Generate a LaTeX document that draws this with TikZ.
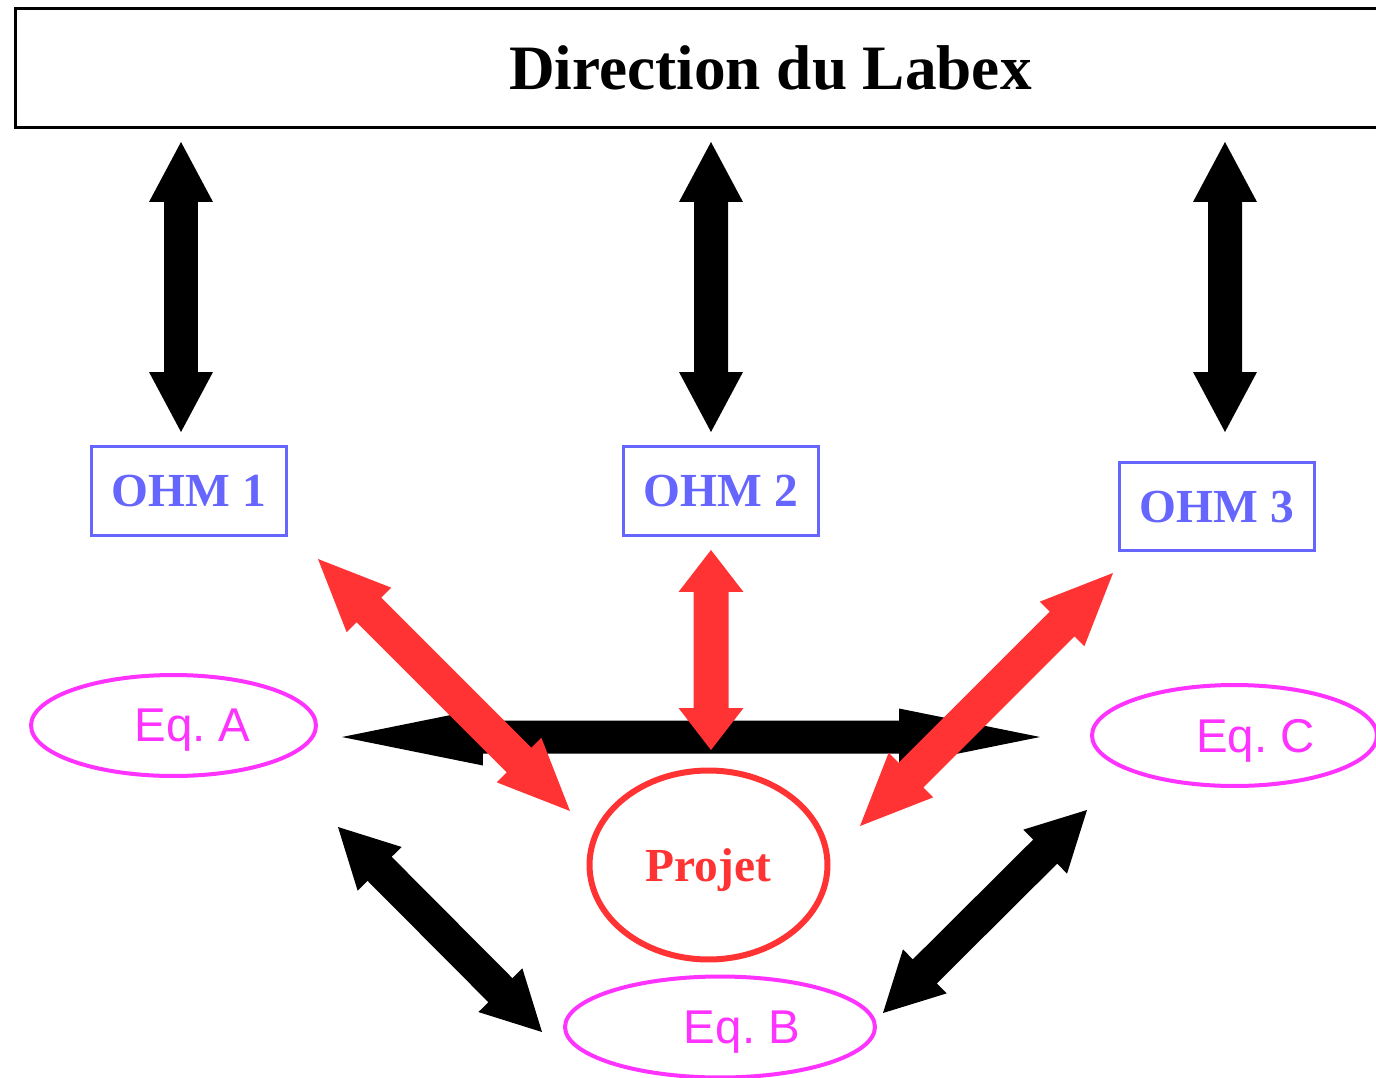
\documentclass[tikz,border=0pt]{standalone}
\usepackage{fontspec}
\setmainfont{Liberation Serif}
\newfontfamily\arialfont{Liberation Sans}
\usetikzlibrary{shapes.geometric,calc}
\definecolor{ohmblue}{RGB}{102,102,255}
\definecolor{projred}{RGB}{255,51,51}
\definecolor{eqmag}{RGB}{255,51,255}
% #1 start, #2 end, #3 half shaft, #4 head length, #5 half head width, #6 colour
\newcommand\dblarrow[6]{%
  \coordinate (hA) at ($(#1)!#4!(#2)$);
  \coordinate (hB) at ($(#2)!#4!(#1)$);
  \fill[#6] (#1) -- ($(hA)!#5!90:(#2)$) -- ($(hA)!#3!90:(#2)$)
    -- ($(hB)!#3!-90:(#1)$) -- ($(hB)!#5!-90:(#1)$) -- (#2)
    -- ($(hB)!#5!90:(#1)$) -- ($(hB)!#3!90:(#1)$)
    -- ($(hA)!#3!-90:(#2)$) -- ($(hA)!#5!-90:(#2)$) -- cycle;}
\tikzset{
  ohmbox/.style={draw=ohmblue, line width=0.06cm, text=ohmblue, minimum width=3.92cm, minimum height=1.78cm, inner sep=0pt, text depth=0pt, font=\fontsize{27}{30}\selectfont\bfseries},
  eqell/.style={ellipse, draw=eqmag, line width=0.08cm, text=eqmag, minimum width=5.7cm, minimum height=2.02cm, inner sep=0pt, text depth=0pt, font=\arialfont\fontsize{27}{30}\selectfont\frenchspacing},
}
\begin{document}
\begin{tikzpicture}[x=0.02cm, y=-0.02cm]
\useasboundingbox (0,0) rectangle (1376,1078);
\clip (0,0) rectangle (1376,1078);
\fill[white] (0,0) rectangle (1376,1078);
% nodes
\node[draw, line width=0.06cm, minimum width=30.22cm, minimum height=2.38cm, inner sep=0pt,
      font=\fontsize{36}{40}\selectfont\bfseries] (top) at (770.5,68) {Direction du Labex};
\node[ohmbox] (ohm1) at (189,491) {OHM 1};
\node[ohmbox] (ohm2) at (721,491) {OHM 2};
\node[ohmbox] (ohm3) at (1217,506.5) {OHM 3};
\node[eqell] (eqA) at (173.5,725.5) {\hspace*{0.76cm}Eq. A};
\node[eqell] (eqC) at (1234.5,735.5) {\hspace*{0.84cm}Eq. C};
\node[eqell, minimum width=6.2cm] (eqB) at (720,1027) {\hspace*{0.88cm}Eq. B};
\node[ellipse, draw=projred, line width=0.12cm, text=projred, minimum width=4.76cm, minimum height=3.78cm,
      inner sep=0pt, text depth=0pt, font=\fontsize{27}{30}\selectfont\bfseries] (projet) at (708.5,865) {Projet};
% connector end points
\coordinate (v1a) at (181,142);  \coordinate (v1b) at (181,432);
\coordinate (v2a) at (711,142);  \coordinate (v2b) at (711,432);
\coordinate (v3a) at (1225,142); \coordinate (v3b) at (1225,432);
\coordinate (hl) at (342,737);   \coordinate (hr) at (1040,737);
\coordinate (d1a) at (338,827);  \coordinate (d1b) at (542,1032);
\coordinate (d2a) at (1087,810); \coordinate (d2b) at (883,1013);
\coordinate (r1a) at (318,559);  \coordinate (r1b) at (570,811);
\coordinate (r2a) at (711,550);  \coordinate (r2b) at (711,750);
\coordinate (r3a) at (1113,573); \coordinate (r3b) at (860,826);
% black arrows
\dblarrow{v1a}{v1b}{0.34cm}{1.2cm}{0.64cm}{black}
\dblarrow{v2a}{v2b}{0.34cm}{1.2cm}{0.64cm}{black}
\dblarrow{v3a}{v3b}{0.34cm}{1.2cm}{0.64cm}{black}
\dblarrow{hl}{hr}{0.33cm}{2.82cm}{0.57cm}{black}
\dblarrow{d1a}{d1b}{0.34cm}{1.18cm}{0.62cm}{black}
\dblarrow{d2a}{d2b}{0.34cm}{1.18cm}{0.62cm}{black}
% red arrows
\dblarrow{r1a}{r1b}{0.35cm}{1.44cm}{0.63cm}{projred}
\dblarrow{r2a}{r2b}{0.35cm}{0.84cm}{0.65cm}{projred}
\dblarrow{r3a}{r3b}{0.35cm}{1.44cm}{0.63cm}{projred}
\end{tikzpicture}
\end{document}
